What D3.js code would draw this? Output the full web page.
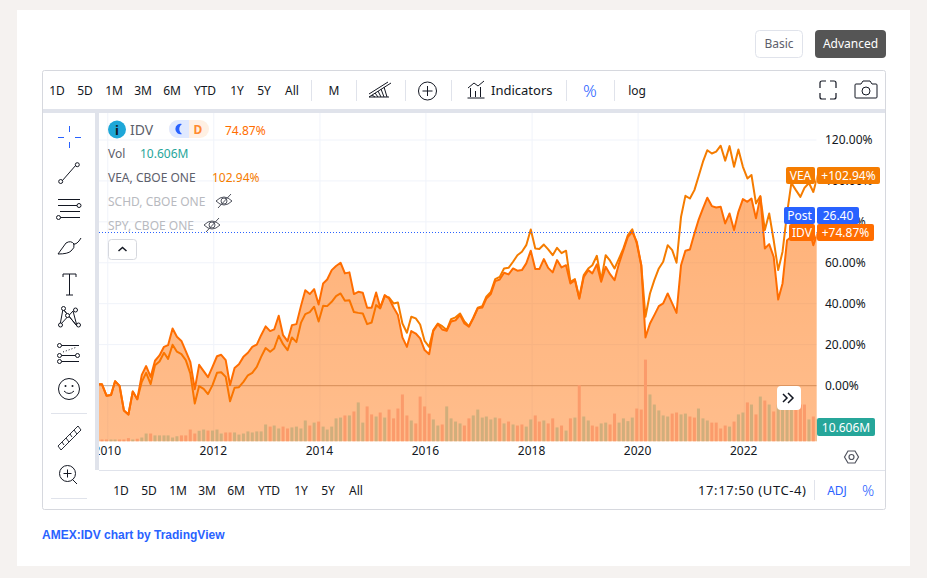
<!DOCTYPE html>
<html><head><meta charset="utf-8">
<script src="https://cdn.jsdelivr.net/npm/d3@7"></script>
<style>
html,body{margin:0;padding:0;background:#f5f2f0;overflow:hidden}
svg{display:block}
text{font-family:"Noto Sans",sans-serif}
</style></head><body>
<svg id="c" width="927" height="578"></svg>
<script>
// Monthly closes as % change, first value = Nov 2009
const idvPct=[0.6,0.6,-5,-4.7,2.1,-0.2,-12.2,-14.2,-2.9,-6.7,5.2,9.5,4.2,12.1,14.7,18.9,19.7,27.9,23.8,21.8,16.8,11.6,-1.8,10.1,7,4.1,9.1,14.3,15,12.4,0.2,8.6,10.4,14,16,18.9,20,24.6,28.9,26.6,27.4,34.1,24.6,21.7,29.5,30,38.8,46.6,44.7,47.1,39.6,49.9,51.8,56.4,58.4,60,54.8,55.3,44.7,45.8,45.3,38,38,45.5,38.1,44.2,42.5,38.1,34.4,23.5,18.9,26.6,25.4,23,17.3,15.3,26.7,30,27.4,26.7,31.3,31.9,34.4,30.3,28.7,32.8,37.7,38.1,42.5,44.7,51,51.8,55.1,54.3,57.2,56.1,56.4,59.7,65.9,57,56.9,61.8,57.5,55.3,61.3,57.7,58.8,49.9,51.5,42.4,53.1,56.4,54.8,59.2,50.7,58,54.4,51.5,59.7,66.2,72.7,75,70.3,58.8,23.5,30.3,34.4,38.8,40.1,45,40.1,35.5,58.8,65.9,66.5,74.3,80.8,86.6,91.8,87.7,87,87.4,79.2,84.1,76,84.9,91.1,89.8,91.4,81.7,92.3,67,69.1,62.9,42,49.9,71,72.7,75,74,76,77,68.6,74.87];
const veaPct=[0.6,0.6,-5,-4.7,2.1,-0.2,-12.2,-14.2,-2.9,-6.7,1.8,6.2,0.7,9.9,11.7,16,13,19.9,16.5,15.3,12.4,5.9,-8.8,-0.3,-1.6,-4.2,0.2,6.2,6.5,4.2,-7.7,-1.1,-0.8,1.8,5,6.2,9.1,14,18.3,16.5,18.1,24.3,20.2,17.3,23.5,21.2,30.6,34.9,35.9,38.5,31.3,39,38.8,40.9,43.7,45,41.4,41.7,35.9,35.5,35.2,30,30.8,39.3,37.7,43.7,43,40.1,40.6,30.3,25.8,33.6,32.8,29.8,21.8,18.9,27.1,30.3,29,27.1,32.4,33.3,35.2,31.3,29,33.1,38,38.8,43.4,45.8,52,53.1,57.2,57.5,60.5,63.7,65.4,68.6,76.3,67,66.7,68.9,66.5,63.7,67.3,64.7,65.9,50.7,52,42.9,54,57.2,58.8,63.4,51.5,63.7,61,57.2,62.1,67,73.5,76.3,69.4,58.8,33.6,45,51.5,57.2,60.5,68.6,66.2,60,82.5,92.7,91.4,95.5,102,109.4,115,113.4,114.3,117.2,109.9,117,106.9,115.4,106.9,101.2,102.9,89,92.6,76,84.1,71,56.4,65.4,84.1,99,95.5,92.2,96.6,99,94.6,102.94];
const volumeM=[0.95,0.95,0.95,0.95,0.95,0.95,0.95,1.6,0.95,1.3,1.9,3.8,3.8,2.9,2.9,2.9,2.9,1.9,2.5,2.9,2.9,5.7,3.8,5.1,5.7,5.2,5.2,5.7,3.8,4.3,4.3,4.3,3.3,3.8,4.8,4.3,4.8,4.8,8.1,7.1,7.6,6.2,7.1,6.2,6.7,7.1,6.2,10,7.6,9,9.5,7.1,5.7,7.1,11,11.4,12.4,12.4,14.3,18.6,9,16.7,12.9,11.9,13.8,11.4,15.2,11,15.7,22.4,12.4,10,8.6,21.4,16.7,13.3,10.5,7.6,8.1,16.7,11,9.5,8.6,7.6,11,12.4,15.2,11.4,11.9,10.5,11.4,11,8.6,9.5,8.1,7.6,8.1,7.1,10.5,12.4,9.5,10,8.6,11,6.7,7.6,5.2,11,11.4,26.8,11.9,10,7.6,7.1,8.6,9,8.1,13.3,9,11,9.7,11.4,15.7,15.2,39,22.4,17.6,14.8,12.4,11.9,13.3,13.8,12.9,13.3,11.9,11.4,15.7,11,10,9,9,6.2,7.6,7.1,9.5,12.9,13.8,18.6,17.6,12.9,21.4,19.5,17.6,14.3,17.6,15.9,15.2,15.2,15.2,17.6,17.6,10.5,11.9,10.606];
const volumeDown=[1,1,1,0,0,1,1,1,0,1,0,0,1,0,0,0,0,0,0,1,1,1,1,0,0,1,0,0,0,1,1,0,0,0,0,0,0,0,0,1,0,0,1,1,0,0,0,0,1,0,1,0,0,0,0,0,1,0,1,0,0,1,1,0,1,0,1,1,1,1,1,0,1,1,1,1,0,0,1,0,0,0,0,1,1,0,0,0,0,0,0,1,0,1,0,1,1,0,0,1,1,0,1,1,0,1,0,1,0,1,0,0,1,1,0,0,1,1,0,0,0,0,1,1,1,0,0,0,0,0,1,1,0,0,1,1,0,0,0,1,1,1,1,0,1,0,0,1,0,1,0,1,0,1,0,0,0,0,1,1,1,0,1,0];
const yTicks=[0,20,40,60,80,100,120];
const xTickYears=[2010,2012,2014,2016,2018,2020,2022];
const rangeTop=["1D","5D","1M","3M","6M","YTD","1Y","5Y","All"];
const rangeTopX=[57,85,114,143,172,205,237,264,292];
const rangeBottomX=[121,149,178,207,236,269,301,328,356];

const svg=d3.select("#c");
const ink="#131722";
const dates=idvPct.map((_,i)=>new Date(2009,10+i,1));
const L=99,R=816.7,B=441.5;
const x=d3.scaleTime().domain([new Date(2009,11,1),new Date(2023,0,1)]).range([102,795.9]);
const y=d3.scaleLinear().domain([0,120]).range([385.5,140]);
const v=d3.scaleLinear().domain([0,1]).range([0,2.1]);
function txt(g,s,xx,yy,size,fill,anchor,weight,font){
  const t=g.append("text").attr("x",xx).attr("y",yy).attr("font-size",size).attr("fill",fill).text(s);
  if(anchor)t.attr("text-anchor",anchor);if(weight)t.attr("font-weight",weight);if(font)t.style("font-family",font);return t;}
function box(g,a,b,w,h,fill,r,stroke){return g.append("rect").attr("x",a).attr("y",b).attr("width",w).attr("height",h).attr("fill",fill).attr("rx",r||0).attr("stroke",stroke||"none");}
function path(g,d,s,w,f){return g.append("path").attr("d",d).attr("stroke",s||ink).attr("stroke-width",w||1).attr("fill",f||"none");}
function sep(g,xx,a,b){g.append("line").attr("x1",xx).attr("x2",xx).attr("y1",a).attr("y2",b).attr("stroke","#e0e3eb");}

// page
box(svg,17,10,893,556,"#fff");
box(svg,755.5,30.5,47,27,"#fff",4,"#e0e3eb");
txt(svg,"Basic",779,48,12,"#5d606b","middle");
box(svg,815,30,71,28,"#555555",4);
txt(svg,"Advanced",850.5,48,12,"#fff","middle");
box(svg,42.5,70.5,843,439,"#fff",2,"#d6d8de");
box(svg,43,109,842,4,"#e0e3eb");
box(svg,95,113,4,357,"#e0e3eb");

// defs
const defs=svg.append("defs");
defs.append("clipPath").attr("id","plot").append("rect").attr("x",L).attr("y",113).attr("width",R-L).attr("height",B-113);
defs.append("clipPath").attr("id","xrow").append("rect").attr("x",L).attr("y",442).attr("width",R-L).attr("height",28);
const gr=defs.append("linearGradient").attr("id","ag").attr("x1",0).attr("x2",0).attr("y1",0).attr("y2",1);
gr.append("stop").attr("offset","0").attr("stop-color","#ff6d00").attr("stop-opacity",.53);
gr.append("stop").attr("offset","1").attr("stop-color","#ff6d00").attr("stop-opacity",.45);

// grid and axes
const plot=svg.append("g").attr("clip-path","url(#plot)");
const tickDates=xTickYears.map(a=>new Date(a,0,10));
plot.selectAll(".gv").data(tickDates).join("line").attr("x1",d=>x(d)).attr("x2",d=>x(d)).attr("y1",113).attr("y2",B).attr("stroke","#f0f3fa");
plot.selectAll(".gh").data(yTicks.filter(t=>t)).join("line").attr("x1",L).attr("x2",R).attr("y1",d=>y(d)).attr("y2",d=>y(d)).attr("stroke","#f0f3fa");
plot.append("line").attr("x1",L).attr("x2",R).attr("y1",y(0)+.2).attr("y2",y(0)+.2).attr("stroke","#b0a8a4");

const line=d3.line().x((d,i)=>x(dates[i])).y(d=>y(d));
plot.append("path").attr("d",line(veaPct)).attr("fill","none").attr("stroke","#f57c00").attr("stroke-width",2).attr("stroke-linejoin","round");
const area=d3.area().x((d,i)=>x(dates[i])).y0(B).y1(d=>y(d));
plot.append("path").attr("d",area(idvPct)).attr("fill","url(#ag)");
plot.selectAll(".vol").data(volumeM).join("rect")
  .attr("x",(d,i)=>x(dates[i])-1.5).attr("width",3)
  .attr("y",d=>B-v(d)).attr("height",d=>v(d))
  .attr("fill",(d,i)=>volumeDown[i]?"#fb9b6b":"#d0ae7c");
plot.append("path").attr("d",line(idvPct)).attr("fill","none").attr("stroke","#ff6d00").attr("stroke-width",2).attr("stroke-linejoin","round");
plot.append("line").attr("x1",L).attr("x2",R).attr("y1",232.5).attr("y2",232.5).attr("stroke","#2962ff").attr("stroke-dasharray","1 2");
svg.append("line").attr("x1",99).attr("x2",885).attr("y1",470.5).attr("y2",470.5).attr("stroke","#e0e3eb");

const xAxis=d3.axisBottom(x).tickValues(tickDates).tickSize(0).tickPadding(0).tickFormat(d3.timeFormat("%Y"));
const gx=svg.append("g").attr("clip-path","url(#xrow)").append("g").attr("transform","translate(-1,446)").call(xAxis);
gx.select(".domain").remove();
gx.selectAll("text").attr("font-size",12).attr("fill",ink).style("font-family",'"Noto Sans",sans-serif');
const yAxis=d3.axisRight(y).tickValues(yTicks).tickSize(0).tickPadding(0).tickFormat(d=>d3.format(".2f")(d)+"%");
const gy=svg.append("g").attr("transform","translate(825,0)").call(yAxis);
gy.select(".domain").remove();
gy.selectAll("text").attr("font-size",12).attr("fill","#131722").style("font-family",'"Noto Sans",sans-serif');

// top toolbar
rangeTop.forEach((s,i)=>txt(svg,s,rangeTopX[i],95,12,ink,"middle"));
[311,356,405,451,566,614].forEach(a=>sep(svg,a+.5,80,101));
txt(svg,"M",334,95,12,ink,"middle");
path(svg,"M369 97L391 83M369 94L388 82M369 97h20M372 95l3 2M375 93l3 4M378 91l3 6M381 89l3 8M384 87l3 10",ink,1);
svg.append("circle").attr("cx",427.5).attr("cy",91).attr("r",9).attr("fill","none").attr("stroke",ink);
path(svg,"M427.5 86v10M422.5 91h10");
path(svg,"M467.5 98h17M470.5 97v-9M475.5 97v-6M480.5 97v-10M468 88l6-5 4 3 6-5");
txt(svg,"Indicators",491,95,13,ink);
txt(svg,"%",590,97,17,"#2962ff","middle").attr("font-weight",300);
txt(svg,"log",637,95,12,ink,"middle");
path(svg,"M820 88v-5q0-2 2-2h4M830 81h4q2 0 2 2v5M836 93v4q0 2-2 2h-4M826 99h-4q-2 0-2-2v-4",ink,1.2);
path(svg,"M856 84h5l2-3h7l2 3h4q1 0 1 1v12q0 1-1 1h-20q-1 0-1-1v-12q0-1 1-1z");
svg.append("circle").attr("cx",866).attr("cy",91).attr("r",4).attr("fill","none").attr("stroke",ink);

// left toolbar
path(svg,"M69.500 126v6M69.500 142v6M58 137.500h6M75 137.500h6","#2962ff",1);
path(svg,"M62 181L76 165");svg.append("circle").attr("cx",60.7).attr("cy",181.5).attr("r",2).attr("fill","#fff").attr("stroke",ink);svg.append("circle").attr("cx",77.3).attr("cy",164.7).attr("r",2).attr("fill","#fff").attr("stroke",ink);
path(svg,"M58 199.500h22M58 205.500h20M60 217.500h20M60 211.500h20");
svg.append("circle").attr("cx",79).attr("cy",205.500).attr("r",2).attr("fill","#fff").attr("stroke",ink);svg.append("circle").attr("cx",58.500).attr("cy",217.5).attr("r",2).attr("fill","#fff").attr("stroke",ink);
path(svg,"M58 254l8-11q5-3 8 1q1 4-3 7q-3 3-13 3zM73 244q4 1 8-6");
path(svg,"M63 277v-3h13v3M69.500 274v21M66 295h7");
path(svg,"M60 325l3-16 14 17-4-15-13 14M63 309l14 17",ink,1);
[[60.5,325],[63.5,308.5],[75.500,310],[78.500,325],[67.5,315.5]].forEach(p=>svg.append("circle").attr("cx",p[0]).attr("cy",p[1]).attr("r",2).attr("fill","#fff").attr("stroke",ink));
path(svg,"M61 345.500h18M61 355.500h16M61 361.500h18");path(svg,"M63 352l14-5",ink,1).attr("stroke-dasharray","1 2");
[[59.500,345.500],[59.500,355.500],[77.5,355.500],[59.500,361.500]].forEach(p=>svg.append("circle").attr("cx",p[0]).attr("cy",p[1]).attr("r",2).attr("fill","#fff").attr("stroke",ink));
svg.append("circle").attr("cx",69).attr("cy",389).attr("r",10.5).attr("fill","none").attr("stroke",ink);
path(svg,"M64 391q5 5 10 0");svg.append("circle").attr("cx",65.500).attr("cy",386).attr("r",1).attr("fill",ink);svg.append("circle").attr("cx",72.5).attr("cy",386).attr("r",1).attr("fill",ink);
svg.append("line").attr("x1",51).attr("x2",87).attr("y1",413.500).attr("y2",413.500).attr("stroke","#e0e3eb");
path(svg,"M58 446l20-20 3 4-20 20zM62 442l2 3M66 438l3 4M70 434l2 3M74 430l3 4",ink,.9);
svg.append("circle").attr("cx",67.500).attr("cy",473.500).attr("r",8).attr("fill","none").attr("stroke",ink);
path(svg,"M63.500 473.500h8M67.500 469.500v8M73 480l4 4");
svg.append("line").attr("x1",51).attr("x2",87).attr("y1",498.500).attr("y2",498.500).attr("stroke","#e0e3eb");

// legend
svg.append("circle").attr("cx",117).attr("cy",129.500).attr("r",9).attr("fill","#1ea7d8");
txt(svg,"i",117,134.500,13,"#131722","middle","bold");
txt(svg,"IDV",130,135,14,"#5d606b");
box(svg,169,120,40,18,"#fff0e3",9);
path(svg,"M178 120h11v18h-11a9 9 0 0 1 0-18z","none",0,"#e0e9ff");
path(svg,"M182 124a5.200 5.200 0 1 0 0 10a6 6 0 0 1 0-10z","none",0,"#2962ff");
txt(svg,"D",198,134,12,"#ff8a30","middle","bold");
txt(svg,"74.87%",225,135,12,"#ff6d00");
txt(svg,"Vol",108,158,12,"#5d606b");
txt(svg,"10.606M",140,158,12,"#26a69a");
txt(svg,"VEA, CBOE ONE",108,182,12,"#5d606b");
txt(svg,"102.94%",212,182,12,"#f57c00");
txt(svg,"SCHD, CBOE ONE",108,206,12,"#b8bac0");
txt(svg,"SPY, CBOE ONE",108,230,12,"#b8bac0");
function eye(cx,cy){path(svg,`M${cx-8} ${cy}q8-8 16 0q-8 8-16 0zM${cx-6} ${cy+7}L${cx+7} ${cy-7}`,"#50535e",1);svg.append("circle").attr("cx",cx).attr("cy",cy).attr("r",3).attr("fill","none").attr("stroke","#50535e");}
eye(224,201);eye(212,225);
box(svg,108.500,239.500,28,20,"#fff",3,"#d6d8de");
path(svg,"M118.500 251l4-3.500 4 3.500",ink,1.500);
box(svg,777,386,24,24,"#fff",4);
path(svg,"M783 394l4 4-4 4M788 393l5 5-5 5",ink,1.500);

// price tags
function tag(a,b,h,w2,w1,name,val,col){box(svg,815-w1,b,w1,h,col,2);box(svg,817,b,w2,h,col,2);
 txt(svg,name,815-w1/2,b+h-4.500,12,"#fff","middle");txt(svg,val,817+w2/2,b+h-4.500,12,"#fff","middle");}
tag(0,167,17,63,29,"VEA","+102.94%","#f57c00");
tag(0,207,17,42,31,"Post","26.40","#2962ff");
tag(0,224,17,57,26,"IDV","+74.87%","#ff6d00");
box(svg,817,418,58,18,"#26a69a",2);
txt(svg,"10.606M",846,431.500,12,"#fff","middle");

// bottom
path(svg,"M844.500 457l3.500-6h7l3.500 6-3.500 6h-7z","#50535e",1.200);
svg.append("circle").attr("cx",851.500).attr("cy",457).attr("r",2.500).attr("fill","none").attr("stroke","#50535e").attr("stroke-width",1.200);
rangeTop.forEach((s,i)=>txt(svg,s,rangeBottomX[i],495,12,ink,"middle"));
txt(svg,"17:17:50 (UTC-4)",806,495,13,ink,"end").attr("textLength",108);
sep(svg,814.500,480,500);
txt(svg,"ADJ",837,495,12,"#2962ff","middle");
txt(svg,"%",868,496,15,"#2962ff","middle").attr("font-weight",300);
txt(svg,"AMEX:IDV chart by TradingView",42,539,12,"#2962ff",null,"bold",'"Liberation Sans",sans-serif');
</script></body></html>
